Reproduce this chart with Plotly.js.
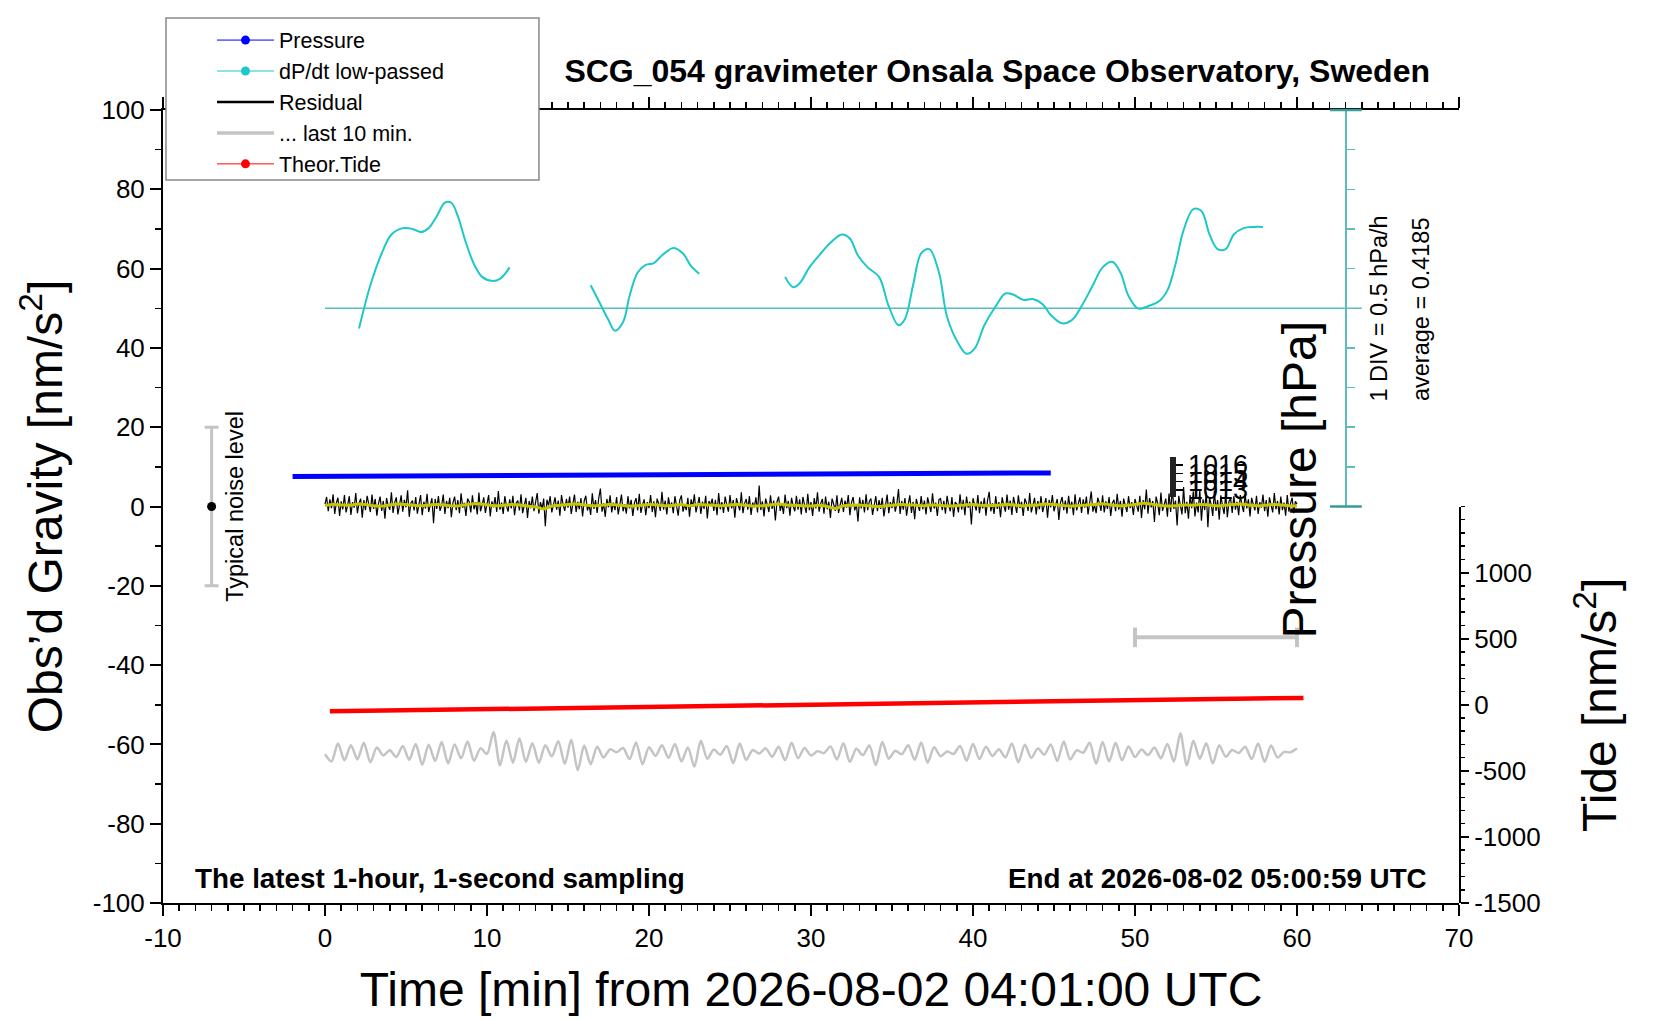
<!DOCTYPE html>
<html>
<head>
<meta charset="utf-8">
<script src="https://cdn.plot.ly/plotly-3.0.1.min.js"></script>
<style>
  html, body { margin: 0; padding: 0; background: #fff; }
  #grafico { width: 1660px; height: 1020px; }
</style>
</head>
<body>
<div id="grafico"></div>
<script>
"use strict";

// Residuo gravimétrico (muestreado cada 0.1 min, nm/s^2)
const residualStep = 0.1;
const residual = [
  0.6, 2.4, -1.2, 1.8, -0.4, 3.1, -1.9, 0.9, 2.2, -2.4, 1.3, -0.7, 2.9, -1.5, 0.4, 2.6, -2.1, 1.1, -0.3, 3.4,
  -1.7, 0.8, 2.0, -2.8, 1.6, -0.9, 2.7, 0.1, -1.4, 3.0, -0.6, 1.9, -2.3, 0.7, 2.5, -1.1, 1.4, -3.1, 2.1, 0.3,
  -0.8, 3.6, -1.6, 1.0, 2.3, -2.0, 0.5, 2.8, -1.3, 1.7, -0.2, 4.1, -2.6, 0.9, 1.5, -1.0, 2.4, -1.8, 0.6, 2.9,
  -2.2, 1.2, -0.5, 3.2, -1.4, 0.8, 2.1, -4.2, 1.9, -0.6, 2.6, -1.1, 0.3, 3.0, -1.9, 1.4, -0.4, 2.2, -2.7, 1.0,
  2.5, -0.9, 1.6, -1.7, 3.3, -0.3, 0.9, -2.4, 2.0, 1.2, -1.5, 2.8, -0.7, 1.1, -2.0, 3.5, -1.2, 0.4, 2.3, -1.6,
  0.7, 2.9, -2.5, 1.3, -0.2, 2.4, -1.4, 3.9, -0.8, 1.0, -1.9, 2.6, 0.2, -1.3, 1.8, -0.5, 2.7, -2.2, 0.9, 1.5,
  -1.0, 3.1, -1.7, 0.6, 2.2, -2.9, 1.4, -0.4, 2.5, -1.2, 0.8, 3.4, -1.8, 1.1, -0.6, 2.0, -5.0, 1.7, 0.3, 2.6,
  -1.5, 0.9, 2.3, -0.8, 1.5, -2.3, 2.9, 0.4, -1.1, 1.9, -0.3, 2.5, -1.9, 0.7, 3.0, -1.4, 1.2, -0.7, 2.1, -2.5,
  1.4, 2.7, -1.0, 0.5, -2.1, 3.3, -0.6, 1.6, -1.6, 2.2, 4.5, -1.3, 0.8, -2.6, 1.9, -0.2, 2.8, -1.5, 1.0, -0.9,
  2.4, -2.0, 1.2, 3.0, -1.2, 0.6, -1.8, 2.6, -0.5, 1.7, -2.4, 0.9, 2.1, -1.0, 3.2, -1.6, 0.4, 1.8, -2.2, 1.1,
  -0.4, 2.9, -1.4, 1.3, -2.7, 2.0, 0.7, -1.1, 3.7, -0.8, 1.5, -2.0, 2.3, -0.3, 1.0, -1.7, 2.6, 0.2, -2.3, 1.6,
  2.8, -1.3, 0.5, -0.9, 2.2, -2.6, 1.8, -0.1, 3.1, -1.5, 0.9, 2.4, -1.9, 1.2, -0.6, 2.7, -3.0, 1.4, 0.3, 2.0,
  -1.1, 1.7, -2.2, 3.4, -0.7, 1.1, -1.6, 2.5, 0.4, -1.3, 2.9, -0.5, 1.6, -2.8, 2.1, 0.6, -1.0, 3.6, -1.7, 0.8,
  1.9, -0.8, 2.6, -2.1, 1.0, -0.2, 2.3, -1.5, 5.3, -0.9, 1.3, -2.5, 2.0, 0.5, -1.4, 2.8, -0.6, 1.5, -3.5, 1.2,
  2.5, -1.1, 0.7, -1.9, 3.0, -0.4, 1.4, -2.3, 2.2, 0.1, -1.2, 2.7, -0.8, 1.8, -2.0, 2.4, 0.3, -1.6, 3.2, -0.9,
  1.1, -2.4, 2.1, -0.5, 3.6, -1.3, 0.8, 1.9, -1.8, 2.5, -0.7, 1.2, -2.9, 2.0, 0.6, -1.1, 2.8, -1.6, 0.4, 2.2,
  -1.4, 1.5, -0.3, 2.9, -2.2, 1.0, 2.4, -1.0, 0.6, -3.8, 2.3, -0.5, 1.7, -1.5, 3.1, -0.9, 1.3, 2.0, -2.1, 0.8,
  2.6, -1.2, 1.6, -0.6, 2.2, -2.5, 0.9, 3.0, -1.7, 1.1, -0.4, 2.5, -1.3, 0.7, 4.4, -1.9, 1.4, -0.8, 2.1, -2.3,
  0.5, 2.8, -1.6, 1.2, -3.2, 1.9, 0.3, -1.1, 2.6, -0.7, 1.5, -2.0, 2.3, 0.8, -1.4, 3.3, -0.5, 1.0, -2.4, 1.8,
  2.0, -0.9, 1.4, -1.8, 2.7, 0.2, -1.2, 2.4, -2.6, 1.1, 0.6, -1.5, 3.1, -0.8, 1.7, -2.2, 2.5, -0.3, 1.2, -4.5,
  2.1, 0.4, -1.0, 2.9, -1.7, 1.3, -0.5, 2.2, -2.3, 1.6, 3.7, -1.2, 0.8, -1.9, 2.6, -0.6, 1.1, -2.7, 2.3, 0.2,
  -1.3, 3.0, -0.8, 1.5, -2.1, 2.4, 0.6, -1.6, 2.8, -0.4, 1.2, -2.4, 2.0, 0.9, -1.1, 3.4, -1.5, 0.5, 2.2, -2.0,
  1.4, -0.7, 2.6, -1.4, 0.8, 2.1, -2.8, 1.7, -0.2, 2.9, -1.2, 0.6, 1.9, -3.4, 1.0, 2.4, -0.9, 1.5, -1.8, 2.7,
  -0.5, 1.2, -2.2, 3.1, -1.0, 0.7, 2.3, -1.6, 1.8, -0.3, 2.5, -2.0, 1.1, 3.8, -1.3, 0.4, -1.7, 2.2, 0.9, -1.1,
  2.8, -1.5, 1.3, -0.6, 2.4, -2.4, 0.9, 1.7, -1.2, 3.2, -0.8, 1.4, -2.6, 2.0, 0.3, -1.4, 2.6, -0.4, 1.1, -2.1,
  1.9, 0.5, -1.3, 2.7, -2.9, 1.6, -0.7, 4.3, -1.8, 2.1, -0.2, 1.4, -3.9, 2.5, 0.8, -2.2, 3.5, -1.1, 0.6, 2.0,
  -2.6, 3.3, -1.4, 4.6, -0.6, 1.5, -4.8, 2.7, 0.3, -2.0, 4.9, -1.7, 1.2, -3.1, 2.9, -0.4, 3.8, -2.5, 1.0, -1.5,
  4.2, -3.6, 1.8, -0.9, 3.6, -5.2, 2.2, 0.6, -2.4, 4.0, -1.1, 1.6, -3.3, 2.8, 0.2, -1.9, 3.4, -2.7, 1.3, 2.1,
  -1.6, 2.6, -0.8, 1.2, -2.2, 2.9, 0.4, -1.4, 3.1, -0.5, 1.8, -2.5, 2.2, 0.7, -1.0, 2.7, -1.9, 1.1, -0.3, 3.0,
  -1.2, 1.6, -2.6, 2.3, 0.5, -1.5, 3.4, -0.7, 1.4, -2.0, 2.5, -0.9, 1.0, -2.3, 2.9, -1.3, 0.8, 2.2, -1.7, 1.3,
  0.6
];

// Residuo filtrado (cada 0.5 min)
const smoothStep = 0.5;
const smoothed = [
  0.2, 0.5, 0.4, 0.3, 0.6, 0.5, 0.2, 0.1, 0.4, 0.6, 0.5, 0.3, 0.2, 0.4, 0.5, 0.3, 0.1, 0.3, 0.6, 0.7,
  0.4, 0.2, 0.3, 0.5, 0.4, 0.1, -0.1, -0.6, 0.1, 0.3, 0.5, 0.6, 0.4, 0.2, 0.3, 0.5, 0.4, 0.2, 0.1, 0.3,
  0.5, 0.4, 0.2, 0.3, 0.5, 0.2, 0.5, 0.4, 0.3, 0.2, 0.4, 0.5, 0.3, 0.1, 0.2, 0.4, 0.6, 0.4, 0.3, 0.2,
  0.1, 0.3, 0.0, -0.5, 0.2, 0.3, 0.4, 0.2, 0.0, 0.1, 0.3, 0.5, 0.4, 0.3, 0.2, 0.4, 0.3, 0.1, 0.2, 0.4,
  0.5, 0.3, 0.2, 0.3, 0.5, 0.4, 0.2, 0.3, 0.4, 0.6, 0.5, 0.3, 0.1, 0.2, 0.4, 0.5, 0.7, 0.4, 0.2, 0.3,
  0.5, 0.8, 0.6, 0.3, 0.1, 0.2, 0.4, 0.3, 0.5, 0.4, 0.2, 0.3, 0.5, 0.6, 0.4, 0.2, 0.3, 0.5, 0.4, 0.2,
  0.1
];

// "... last 10 min." (cada 0.4 min)
const lastStep = 0.4;
const lastTen = [
  -62.5, -64.3, -59.8, -64.0, -60.2, -63.8, -59.6, -64.5, -60.8, -62.8, -61.5, -63.2, -60.4, -63.9, -59.9, -65.1, -60.1, -64.2, -59.4, -64.8,
  -60.0, -63.5, -59.3, -64.1, -61.0, -62.4, -56.9, -65.3, -59.0, -64.6, -58.5, -64.4, -59.7, -64.6, -60.2, -63.0, -59.2, -64.9, -58.8, -66.5,
  -60.3, -65.0, -60.6, -63.3, -61.2, -62.0, -60.9, -63.7, -59.5, -65.0, -60.7, -62.9, -60.2, -63.4, -59.9, -64.3, -60.8, -65.6, -59.1, -63.6,
  -61.3, -62.6, -60.4, -64.7, -59.8, -63.9, -61.4, -62.3, -61.0, -63.1, -60.6, -64.0, -59.6, -63.5, -60.9, -62.8, -61.7, -62.2, -60.5, -63.8,
  -59.7, -64.4, -61.1, -62.7, -60.3, -65.2, -59.4, -63.6, -61.6, -62.5, -60.2, -63.9, -59.5, -64.6, -60.7, -63.0, -61.8, -62.4, -60.4, -64.1,
  -59.9, -63.7, -60.6, -62.9, -61.2, -63.3, -59.8, -64.5, -60.1, -63.4, -61.0, -62.6, -60.0, -64.2, -59.3, -63.8, -61.5, -62.1, -59.6, -64.9,
  -59.4, -64.3, -59.6, -64.0, -60.5, -63.2, -61.3, -62.7, -60.8, -63.5, -59.9, -64.3, -57.2, -65.3, -59.1, -63.6, -59.7, -64.8, -60.2, -63.1,
  -61.4, -62.2, -60.6, -63.7, -59.8, -64.4, -60.3, -63.3, -61.9, -62.0, -61.0
];

// Marea teórica (nm/s^2)
const tideTime = [0.3, 5, 10, 15, 20, 25, 30, 35, 40, 45, 50, 55, 60.4];
const tideValue = [-50, -42, -34, -25, -17, -8, 1, 9, 18, 26, 35, 43, 52];

// Presión (hPa)
const pressureTime = [-2, 0, 2, 4, 6, 8, 10, 12, 14, 16, 18, 20, 22, 24, 26, 28, 30, 32, 34, 36, 38, 40, 42, 44, 44.8];
const pressureValue = [1014.60, 1014.62, 1014.64, 1014.66, 1014.68, 1014.70, 1014.72, 1014.74, 1014.75, 1014.77,
  1014.79, 1014.81, 1014.83, 1014.85, 1014.86, 1014.88, 1014.90, 1014.91, 1014.93, 1014.95, 1014.96, 1014.98,
  1015.00, 1015.02, 1015.04];
const pressureTicks = [1013, 1014, 1015, 1016];

// dP/dt filtrado (hPa/h), con huecos
const dpdtAverage = 0.4185;
const dpdtDiv = 0.5;
const dpdtTime = [
  2.1, 2.8, 3.5, 4.1, 4.8, 5.4, 5.9, 6.4, 6.9, 7.4, 7.8, 8.2, 8.7, 9.2, 9.7, 10.3, 10.8, 11.4, null,
  16.4, 16.9, 17.5, 17.9, 18.4, 18.8, 19.3, 19.8, 20.3, 20.8, 21.5, 22.1, 22.6, 23.1, null,
  28.4, 28.9, 29.3, 29.9, 30.6, 31.2, 31.9, 32.4, 32.9, 33.5, 34.2, 34.8, 35.4, 35.8, 36.3, 36.8, 37.3, 37.9,
  38.4, 39.1, 39.6, 40.1, 40.7, 41.4, 42.0, 42.5, 43.1, 43.7, 44.3, 44.8, 45.5, 46.1, 46.7, 47.4, 48.0, 48.6,
  49.1, 49.6, 50.2, 50.8, 51.5, 52.0, 52.5, 53.0, 53.6, 54.1, 54.6, 55.1, 55.6, 56.1, 56.7, 57.3, 57.9
];
const dpdtValue = [
  0.164, 0.709, 1.109, 1.349, 1.429, 1.419, 1.379, 1.429, 1.579, 1.749, 1.749, 1.579, 1.244, 0.974, 0.814, 0.764, 0.789, 0.934, null,
  0.709, 0.509, 0.269, 0.134, 0.244, 0.574, 0.869, 0.964, 0.989, 1.084, 1.179, 1.109, 0.949, 0.854, null,
  0.814, 0.684, 0.734, 0.934, 1.109, 1.244, 1.349, 1.299, 1.084, 0.934, 0.814, 0.444, 0.204, 0.284, 0.709, 1.109, 1.164, 0.869,
  0.309, -0.026, -0.156, -0.091, 0.204, 0.444, 0.604, 0.589, 0.524, 0.534, 0.469, 0.334, 0.229, 0.269, 0.444, 0.709, 0.934, 1.004,
  0.869, 0.574, 0.414, 0.444, 0.509, 0.644, 0.974, 1.404, 1.669, 1.644, 1.349, 1.164, 1.164, 1.349, 1.429, 1.444, 1.444
];
const dpdtLineTime = [0, 64.0];

// Nivel de ruido típico y ventana de 10 min
const noiseTime = [-7];
const noiseLevel = [0];
const noiseHalf = [20];
const windowTime = [50, 60];
const windowLevel = [-33, -33];

// Etiquetas de los ejes (con guion simple, como el original)
const timeTicks = [-10, 0, 10, 20, 30, 40, 50, 60, 70];
const gravityTicks = [-100, -80, -60, -40, -20, 0, 20, 40, 60, 80, 100];
const tideTicks = [-1500, -1000, -500, 0, 500, 1000];
const etiqueta = v => String(v);

const FUENTE = 'Liberation Sans, Arial, Helvetica, sans-serif';
const CIAN = '#1ec8c8';
const CIAN_EJE = '#5cbcbc';
const GRIS = '#c4c4c4';

function rejilla(n, paso) {
    return Array.from({ length: n }, (_, i) => +(i * paso).toFixed(3));
}

const trazas = [
    // línea media dP/dt
    { x: dpdtLineTime, y: [dpdtAverage, dpdtAverage], xaxis: 'x', yaxis: 'y4', type: 'scatter', mode: 'lines',
      line: { color: CIAN_EJE, width: 1.5 }, showlegend: false, hoverinfo: 'skip' },
    { x: dpdtTime, y: dpdtValue, xaxis: 'x', yaxis: 'y4', type: 'scatter', mode: 'lines',
      line: { color: CIAN, width: 2, shape: 'spline', smoothing: 1 }, connectgaps: false, showlegend: false },
    { x: rejilla(lastTen.length, lastStep), y: lastTen, type: 'scatter', mode: 'lines',
      line: { color: GRIS, width: 2.5, shape: 'spline', smoothing: 0.8 }, showlegend: false },
    { x: tideTime, y: tideValue, xaxis: 'x', yaxis: 'y2', type: 'scatter', mode: 'lines',
      line: { color: '#ff0000', width: 4.5 }, showlegend: false },
    { x: pressureTime, y: pressureValue, xaxis: 'x', yaxis: 'y3', type: 'scatter', mode: 'lines',
      line: { color: '#0000ff', width: 5 }, showlegend: false },
    { x: rejilla(residual.length, residualStep), y: residual, type: 'scatter', mode: 'lines',
      line: { color: '#000000', width: 1.2 }, showlegend: false },
    { x: rejilla(smoothed.length, smoothStep), y: smoothed, type: 'scatter', mode: 'lines',
      line: { color: '#c8c400', width: 3, shape: 'spline' }, showlegend: false },
    { x: noiseTime, y: noiseLevel, type: 'scatter', mode: 'markers',
      marker: { color: '#000', size: 9 },
      error_y: { type: 'data', array: noiseHalf, visible: true, color: GRIS, thickness: 3, width: 7 },
      showlegend: false },
    { x: windowTime, y: windowLevel, type: 'scatter', mode: 'lines+markers',
      line: { color: GRIS, width: 4 },
      marker: { symbol: 'line-ns', size: 14, color: GRIS, line: { color: GRIS, width: 4 } },
      showlegend: false },

    // entradas de la leyenda
    { x: [null], y: [null], name: 'Pressure', mode: 'lines+markers',
      line: { color: '#0000ff', width: 1 }, marker: { color: '#0000ff', size: 9 } },
    { x: [null], y: [null], name: 'dP/dt low-passed', mode: 'lines+markers',
      line: { color: CIAN, width: 1 }, marker: { color: CIAN, size: 9 } },
    { x: [null], y: [null], name: 'Residual', mode: 'lines', line: { color: '#000', width: 2.5 } },
    { x: [null], y: [null], name: '... last 10 min.', mode: 'lines', line: { color: GRIS, width: 3.5 } },
    { x: [null], y: [null], name: 'Theor.Tide', mode: 'lines+markers',
      line: { color: '#ff0000', width: 1 }, marker: { color: '#ff0000', size: 9 } }
];

const layout = {
    width: 1660,
    height: 1020,
    margin: { l: 163, r: 201, t: 110, b: 117 },
    paper_bgcolor: '#ffffff',
    plot_bgcolor: 'rgba(0,0,0,0)',
    font: { family: FUENTE, color: '#000' },
    title: {
        text: 'SCG_054 gravimeter Onsala Space Observatory, Sweden',
        font: { size: 32, weight: 'bold' },
        xref: 'paper', x: 0.9776, xanchor: 'right',
        yref: 'container', y: 0.931, yanchor: 'middle'
    },
    showlegend: true,
    legend: {
        x: 0.0378, y: 1.114, xanchor: 'left', yanchor: 'top',
        bgcolor: 'rgba(0,0,0,0)', borderwidth: 0,
        font: { size: 21.5 }, tracegroupgap: 0, itemwidth: 57
    },
    xaxis: {
        range: [-10, 70], tickvals: timeTicks, ticktext: timeTicks.map(etiqueta),
        ticks: 'outside', ticklen: 11, tickwidth: 2, tickcolor: '#000',
        showline: true, linewidth: 2, linecolor: '#000', mirror: 'ticks',
        showgrid: false, zeroline: false,
        tickfont: { size: 26 },
        minor: { dtick: 1, ticks: 'outside', ticklen: 6, tickwidth: 1.5, tickcolor: '#000', showgrid: false },
        title: { text: 'Time [min] from 2026-08-02 04:01:00 UTC', font: { size: 48 }, standoff: 20 }
    },
    yaxis: {
        domain: [0, 1], range: [-100, 100], tickvals: gravityTicks, ticktext: gravityTicks.map(etiqueta),
        ticks: 'outside', ticklen: 11, tickwidth: 2, tickcolor: '#000',
        showline: true, linewidth: 2, linecolor: '#000',
        showgrid: false, zeroline: false,
        tickfont: { size: 26 },
        minor: { dtick: 10, ticks: 'outside', ticklen: 6, tickwidth: 1.5, tickcolor: '#000', showgrid: false },
        title: { text: 'Obs’d Gravity [nm/s<sup>2</sup>]', font: { size: 48 }, standoff: 15 }
    },
    yaxis2: {
        domain: [0, 0.5], anchor: 'x', side: 'right', range: [-1500, 1500],
        tickvals: tideTicks, ticktext: tideTicks.map(etiqueta),
        ticks: 'outside', ticklen: 8, tickwidth: 2, tickcolor: '#000',
        showline: true, linewidth: 2, linecolor: '#000',
        showgrid: false, zeroline: false,
        tickfont: { size: 26 },
        minor: { dtick: 100, ticks: 'outside', ticklen: 4, tickwidth: 1.5, tickcolor: '#000', showgrid: false },
        title: { text: 'Tide [nm/s<sup>2</sup>]', font: { size: 48 }, standoff: 43 }
    },
    yaxis3: {
        domain: [0.512, 0.5624], anchor: 'free', position: 0.779, side: 'right',
        range: [1012.14, 1016.96], tickvals: pressureTicks,
        ticks: 'outside', ticklen: 7, tickwidth: 1.5, tickcolor: '#000',
        showline: true, linewidth: 6, linecolor: '#222',
        showgrid: false, zeroline: false,
        tickfont: { size: 27 }
    },
    yaxis4: {
        domain: [0.5, 1], anchor: 'free', position: 0.9128, side: 'right',
        range: [dpdtAverage - 5 * dpdtDiv, dpdtAverage + 5 * dpdtDiv],
        tick0: dpdtAverage, dtick: dpdtDiv,
        ticks: 'outside', ticklen: 8, tickwidth: 1.5, tickcolor: CIAN_EJE,
        showline: true, linewidth: 2, linecolor: CIAN_EJE,
        showticklabels: false, showgrid: false, zeroline: false
    },
    shapes: [
        // caja de la leyenda
        { type: 'rect', xref: 'paper', yref: 'paper', x0: 0.0023, x1: 0.2901, y0: 0.9117, y1: 1.116,
          fillcolor: '#ffffff', line: { color: '#888888', width: 1.5 }, layer: 'above' },
        // topes del eje dP/dt
        { type: 'line', xref: 'paper', yref: 'paper', x0: 0.9005, x1: 0.925, y0: 1, y1: 1,
          line: { color: '#3a9a9a', width: 2.5 }, layer: 'above' },
        { type: 'line', xref: 'paper', yref: 'paper', x0: 0.9005, x1: 0.925, y0: 0.5, y1: 0.5,
          line: { color: '#3a9a9a', width: 2.5 }, layer: 'above' }
    ],
    annotations: [
        { text: 'Pressure [hPa]', xref: 'paper', yref: 'paper', x: 0.8769, y: 0.5334,
          textangle: -90, showarrow: false, font: { size: 48 }, xanchor: 'center', yanchor: 'middle' },
        { text: '1 DIV = 0.5 hPa/h', xref: 'paper', yref: 'paper', x: 0.9383, y: 0.7497,
          textangle: -90, showarrow: false, font: { size: 23.5 }, xanchor: 'center', yanchor: 'middle' },
        { text: 'average = 0.4185', xref: 'paper', yref: 'paper', x: 0.9707, y: 0.749,
          textangle: -90, showarrow: false, font: { size: 23.5 }, xanchor: 'center', yanchor: 'middle' },
        { text: 'Typical noise level', xref: 'paper', yref: 'paper', x: 0.055, y: 0.5,
          textangle: -90, showarrow: false, font: { size: 23.5 }, xanchor: 'center', yanchor: 'middle' },
        { text: 'The latest 1-hour, 1-second sampling', xref: 'paper', yref: 'paper', x: 0.0232, y: 0.0315,
          showarrow: false, font: { size: 27.8, weight: 'bold' }, xanchor: 'left', yanchor: 'middle' },
        { text: 'End at 2026-08-02 05:00:59 UTC', xref: 'paper', yref: 'paper', x: 0.9769, y: 0.0315,
          showarrow: false, font: { size: 27.8, weight: 'bold' }, xanchor: 'right', yanchor: 'middle' }
    ]
};

const config = { displayModeBar: false, staticPlot: true };

Plotly.newPlot('grafico', trazas, layout, config);
</script>
</body>
</html>
